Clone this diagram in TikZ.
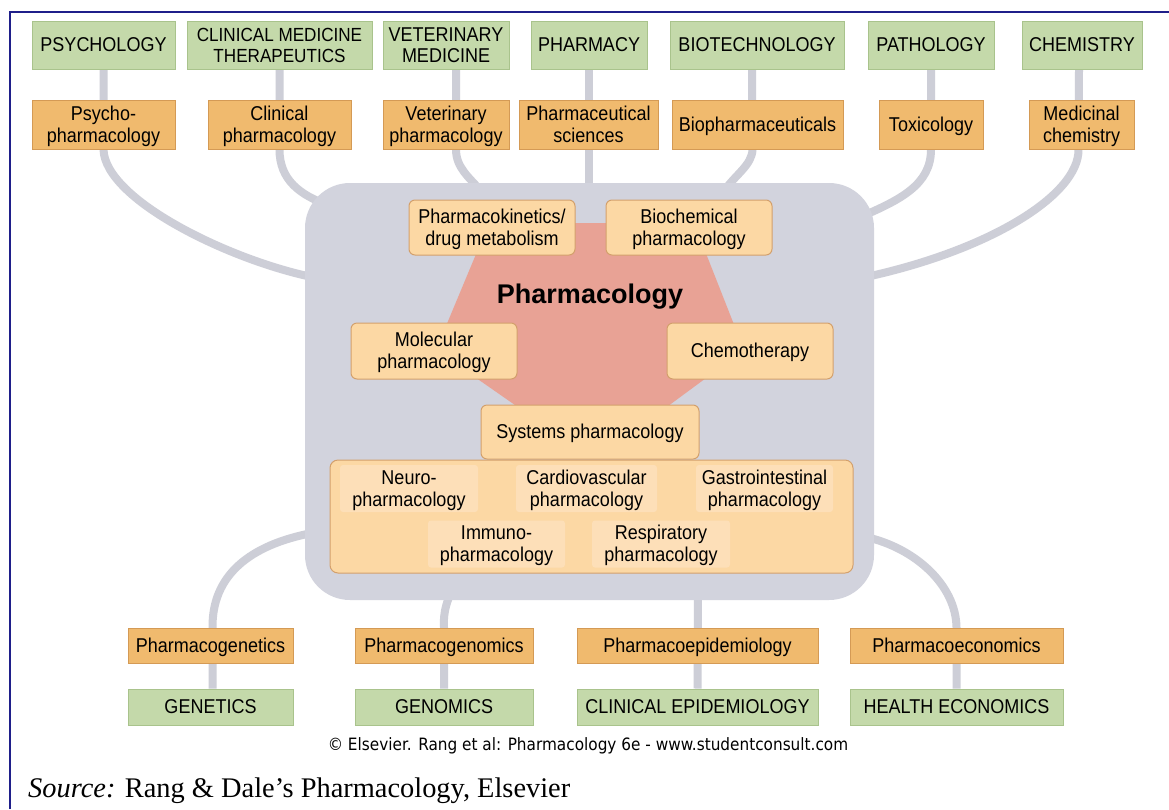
\documentclass[tikz,border=0pt]{standalone}
\usepackage{graphicx}
\usepackage{fontspec}
\setmainfont{Liberation Sans}
\newfontfamily\srcfont{Liberation Serif}
\newfontfamily\cpyfont{DejaVu Sans}
\usetikzlibrary{backgrounds}

\definecolor{fieldfill}{HTML}{C4D9AA}
\definecolor{fieldedge}{HTML}{A9C38C}
\definecolor{subfill}{HTML}{F0BA6E}
\definecolor{subedge}{HTML}{D49A55}
\definecolor{corefill}{HTML}{FCD8A4}
\definecolor{coreedge}{HTML}{D3A06C}
\definecolor{taglight}{HTML}{FDDFB8}
\definecolor{hexfill}{HTML}{E8A295}
\definecolor{hubgrey}{HTML}{D2D3DD}
\definecolor{linkgrey}{HTML}{CDCED7}
\definecolor{framenavy}{HTML}{1F1F8A}

% narrow, centred multi-line label, set a little lower than its box
\newcommand\lab[1]{\raisebox{-2.5pt}[\height][\depth]{\scalebox{0.9}[1]{\begin{tabular}{@{}c@{}}#1\end{tabular}}}}

\pgfdeclarelayer{paper}
\pgfdeclarelayer{links}
\pgfsetlayers{paper,links,main}

\begin{document}
\begin{tikzpicture}[x=1pt,y=-1pt,
  every node/.style={inner sep=0pt, align=center, text=black},
  fieldbox/.style={draw=fieldedge, fill=fieldfill, line width=1pt,
    font=\fontsize{20}{21.5}\selectfont},
  subbox/.style={draw=subedge, fill=subfill, line width=1pt,
    font=\fontsize{20}{21.5}\selectfont},
  corebox/.style={draw=coreedge, fill=corefill, line width=1pt, rounded corners=6pt,
    font=\fontsize{20}{22}\selectfont},
  tag/.style={fill=taglight, rounded corners=3pt, minimum height=47pt,
    font=\fontsize{20}{22}\selectfont},
  link/.style={draw=linkgrey, line width=8pt},
]
\begin{pgfonlayer}{paper}
  \fill[white] (0,0) rectangle (1169,809);
\end{pgfonlayer}
\useasboundingbox (0,0) rectangle (1169,809);

% frame
\draw[framenavy, line width=2.5pt] (10,809) -- (10,12) -- (1169,12);

% parent disciplines (top)
\node[fieldbox, minimum width=143pt, minimum height=48pt] (g1) at (103.5,45) {\lab{PSYCHOLOGY}};
\node[fieldbox, minimum width=185pt, minimum height=48pt, font=\fontsize{19}{21.5}\selectfont] (g2) at (279.5,45) {\lab{CLINICAL MEDICINE\\THERAPEUTICS}};
\node[fieldbox, minimum width=126pt, minimum height=48pt] (g3) at (446,45) {\lab{VETERINARY\\MEDICINE}};
\node[fieldbox, minimum width=116pt, minimum height=48pt] (g4) at (589,45) {\lab{PHARMACY}};
\node[fieldbox, minimum width=174pt, minimum height=48pt] (g5) at (757,45) {\lab{BIOTECHNOLOGY}};
\node[fieldbox, minimum width=126pt, minimum height=48pt] (g6) at (931,45) {\lab{PATHOLOGY}};
\node[fieldbox, minimum width=120pt, minimum height=48pt] (g7) at (1082,45) {\lab{CHEMISTRY}};

% applied branches (top)
\node[subbox, minimum width=143pt, minimum height=49pt] (o1) at (103.5,124.5) {\lab{Psycho-\\pharmacology}};
\node[subbox, minimum width=143pt, minimum height=49pt] (o2) at (279.5,124.5) {\lab{Clinical\\pharmacology}};
\node[subbox, minimum width=126pt, minimum height=49pt] (o3) at (446,124.5) {\lab{Veterinary\\pharmacology}};
\node[subbox, minimum width=139pt, minimum height=49pt] (o4) at (588.5,124.5) {\lab{Pharmaceutical\\sciences}};
\node[subbox, minimum width=171pt, minimum height=49pt] (o5) at (757.5,124.5) {\lab{Biopharmaceuticals}};
\node[subbox, minimum width=104pt, minimum height=49pt] (o6) at (931,124.5) {\lab{Toxicology}};
\node[subbox, minimum width=105pt, minimum height=49pt] (o7) at (1081.5,124.5) {\lab{Medicinal\\chemistry}};

% central hub
\node[fill=hubgrey, rounded corners=45pt, minimum width=569pt, minimum height=417pt] (hub) at (589.5,391.5) {};
\fill[hexfill] (489,223) -- (694,223) -- (744,350) -- (660,412) -- (525,412) -- (436,350) -- cycle;
\node[font=\bfseries\fontsize{27}{30}\selectfont] (title) at (590,297) {Pharmacology};

\node[corebox, minimum width=166pt, minimum height=55pt] (pk) at (492,227.5) {\lab{Pharmacokinetics/\\drug metabolism}};
\node[corebox, minimum width=166pt, minimum height=55pt] (bc) at (689,227.5) {\lab{Biochemical\\pharmacology}};
\node[corebox, minimum width=166pt, minimum height=56pt] (mol) at (434,351) {\lab{Molecular\\pharmacology}};
\node[corebox, minimum width=166pt, minimum height=56pt] (chem) at (750,351) {\lab{Chemotherapy}};
\node[corebox, minimum width=218pt, minimum height=54pt] (sys) at (590,432) {\lab{Systems pharmacology}};
\node[corebox, rounded corners=8pt, minimum width=523pt, minimum height=113pt] (organ) at (591.5,516.5) {};

\node[tag, minimum width=138pt] (neuro) at (409,488.5) {\lab{Neuro-\\pharmacology}};
\node[tag, minimum width=141pt] (cardio) at (586.5,488.5) {\lab{Cardiovascular\\pharmacology}};
\node[tag, minimum width=137pt] (gastro) at (764.5,488.5) {\lab{Gastrointestinal\\pharmacology}};
\node[tag, minimum width=137pt] (immuno) at (496.5,544) {\lab{Immuno-\\pharmacology}};
\node[tag, minimum width=138pt] (resp) at (661,544) {\lab{Respiratory\\pharmacology}};

% applied branches (bottom)
\node[subbox, minimum width=165pt, minimum height=35pt] (b1) at (210.5,645.5) {\lab{Pharmacogenetics}};
\node[subbox, minimum width=178pt, minimum height=35pt] (b2) at (444,645.5) {\lab{Pharmacogenomics}};
\node[subbox, minimum width=241pt, minimum height=35pt] (b3) at (697.5,645.5) {\lab{Pharmacoepidemiology}};
\node[subbox, minimum width=213pt, minimum height=35pt] (b4) at (956.5,645.5) {\lab{Pharmacoeconomics}};

% parent disciplines (bottom)
\node[fieldbox, minimum width=165pt, minimum height=36pt] (k1) at (210.5,707) {\lab{GENETICS}};
\node[fieldbox, minimum width=178pt, minimum height=36pt] (k2) at (444,707) {\lab{GENOMICS}};
\node[fieldbox, minimum width=241pt, minimum height=36pt] (k3) at (697.5,707) {\lab{CLINICAL EPIDEMIOLOGY}};
\node[fieldbox, minimum width=213pt, minimum height=36pt] (k4) at (956.5,707) {\lab{HEALTH ECONOMICS}};

% credits
\node[font=\cpyfont\fontsize{17}{19}\selectfont] (copy) at (588,744) {\lab{© Elsevier. Rang et al: Pharmacology 6e - www.studentconsult.com}};
\node[anchor=base west, font=\srcfont\fontsize{28.4}{30}\selectfont] (src) at (28,797) {\textit{Source:} Rang \& Dale’s Pharmacology, Elsevier};

% attachment points on the hub
\coordinate (a1) at (312,277);
\coordinate (a2) at (328,205);
\coordinate (a3) at (480,190);
\coordinate (a4) at (589,190);
\coordinate (a5) at (725,190);
\coordinate (a6) at (858,218);
\coordinate (a7) at (866,277);
\coordinate (a8) at (312,533);
\coordinate (a9) at (451,592);
\coordinate (a10) at (698,592);
\coordinate (a11) at (866,537);

% connectors
\begin{pgfonlayer}{links}
  \draw[link] (g1.south) -- (o1.south) .. controls (105,200) and (230,260) .. (a1);
  \draw[link] (g2.south) -- (o2.south) .. controls (279.5,180) and (300,195) .. (a2);
  \draw[link] ([xshift=10pt]g3.south) -- ([xshift=10pt]o3.south) .. controls (456,168) and (470,178) .. (a3);
  \draw[link] (g4.south) -- (a4);
  \draw[link] ([xshift=-5pt]g5.south) -- ([xshift=-5pt]o5.south) .. controls (752,165) and (735,175) .. (a5);
  \draw[link] (g6.south) -- (o6.south) .. controls (931,185) and (900,200) .. (a6);
  \draw[link] ([xshift=-3pt]g7.south) -- ([xshift=-3pt]o7.south) .. controls (1079,195) and (990,250) .. (a7);
  \draw[link] ([xshift=2pt]k1.north) -- ([xshift=2pt]b1.north) .. controls (212,575) and (250,545) .. (a8);
  \draw[link] (k2.north) -- (b2.north) .. controls (443,610) and (448,600) .. (a9);
  \draw[link] (k3.north) -- (a10);
  \draw[link] (k4.north) -- (b4.north) .. controls (956,585) and (915,548) .. (a11);
\end{pgfonlayer}
\end{tikzpicture}
\end{document}
